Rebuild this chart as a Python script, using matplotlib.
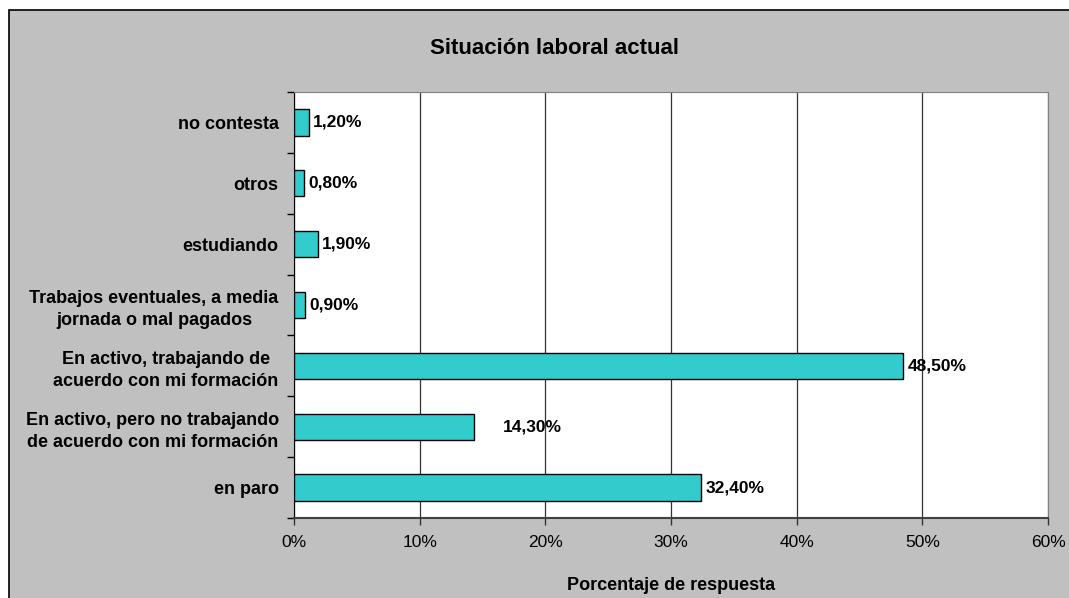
import matplotlib.pyplot as plt

categories = [
    "en paro",
    "En activo, pero no trabajando\nde acuerdo con mi formación",
    "En activo, trabajando de\nacuerdo con mi formación",
    "Trabajos eventuales, a media\njornada o mal pagados",
    "estudiando",
    "otros",
    "no contesta",
]
values = [32.4, 14.3, 48.5, 0.9, 1.9, 0.8, 1.2]
value_labels = ["32,40%", "14,30%", "48,50%", "0,90%", "1,90%", "0,80%", "1,20%"]
x_ticks = [0, 10, 20, 30, 40, 50, 60]


def main():
    plt.rcParams['font.family'] = ['Liberation Sans', 'DejaVu Sans']

    fig = plt.figure(figsize=(10.69, 5.98), dpi=100)
    fig.patch.set_facecolor("white")

    # gray chart area with black border (runs off right/bottom edge)
    bg = plt.Rectangle((9 / 1069, -0.1), 1.1, 1.1 - 10 / 598, transform=fig.transFigure,
                       facecolor="#C0C0C0", edgecolor="black", linewidth=1.2, zorder=-10)
    fig.patches.append(bg)

    ax = fig.add_axes([294 / 1069, 1 - 518 / 598, (1048 - 294) / 1069, (518 - 92) / 598])
    ax.set_facecolor("white")

    pos = list(range(len(categories)))
    ax.barh(pos, values, height=0.43, color="#33CCCC", edgecolor="black",
            linewidth=1, zorder=3)

    # Excel placed the 14,30% label a bit further out
    extra = [0, 18, 0, 0, 0, 0, 0]
    for p, v, lab, e in zip(pos, values, value_labels, extra):
        ax.annotate(lab, (v, p), xytext=(3 + e, 0), textcoords="offset points",
                    va="center", ha="left", fontsize=12.5, fontweight="bold", zorder=4)

    ax.set_xlim(0, 60)
    ax.set_ylim(-0.5, len(categories) - 0.5)
    ax.set_xticks(x_ticks)
    ax.set_xticklabels([f"{t}%" for t in x_ticks], fontsize=12.5)
    ax.set_yticks(pos)
    ax.set_yticklabels(categories, fontsize=13, fontweight="bold", ha="right",
                       multialignment="center", linespacing=1.4)
    ax.tick_params(axis="y", length=0, pad=11)
    # ticks between categories on the y axis
    ax.set_yticks([p - 0.5 for p in pos] + [len(pos) - 0.5], minor=True)
    ax.tick_params(axis="y", which="minor", length=5, width=1, color="black")
    ax.tick_params(axis="x", length=5, width=1, color="#333333", pad=7)

    ax.xaxis.grid(True, color="#333333", linewidth=0.9, zorder=0)
    ax.set_axisbelow(True)

    ax.spines["left"].set_color("black")
    ax.spines["bottom"].set_color("#404040")
    ax.spines["bottom"].set_linewidth(1.5)
    ax.spines["top"].set_color("#808080")
    ax.spines["right"].set_color("#808080")

    fig.text(554 / 1069, 1 - 48 / 598, "Situación laboral actual", ha="center",
             va="center", fontsize=16, fontweight="bold")
    fig.text(671 / 1069, 1 - 586 / 598, "Porcentaje de respuesta", ha="center",
             va="center", fontsize=13, fontweight="bold")

    fig.savefig("out.png", dpi=100, facecolor=fig.get_facecolor())


if __name__ == '__main__':
    main()
